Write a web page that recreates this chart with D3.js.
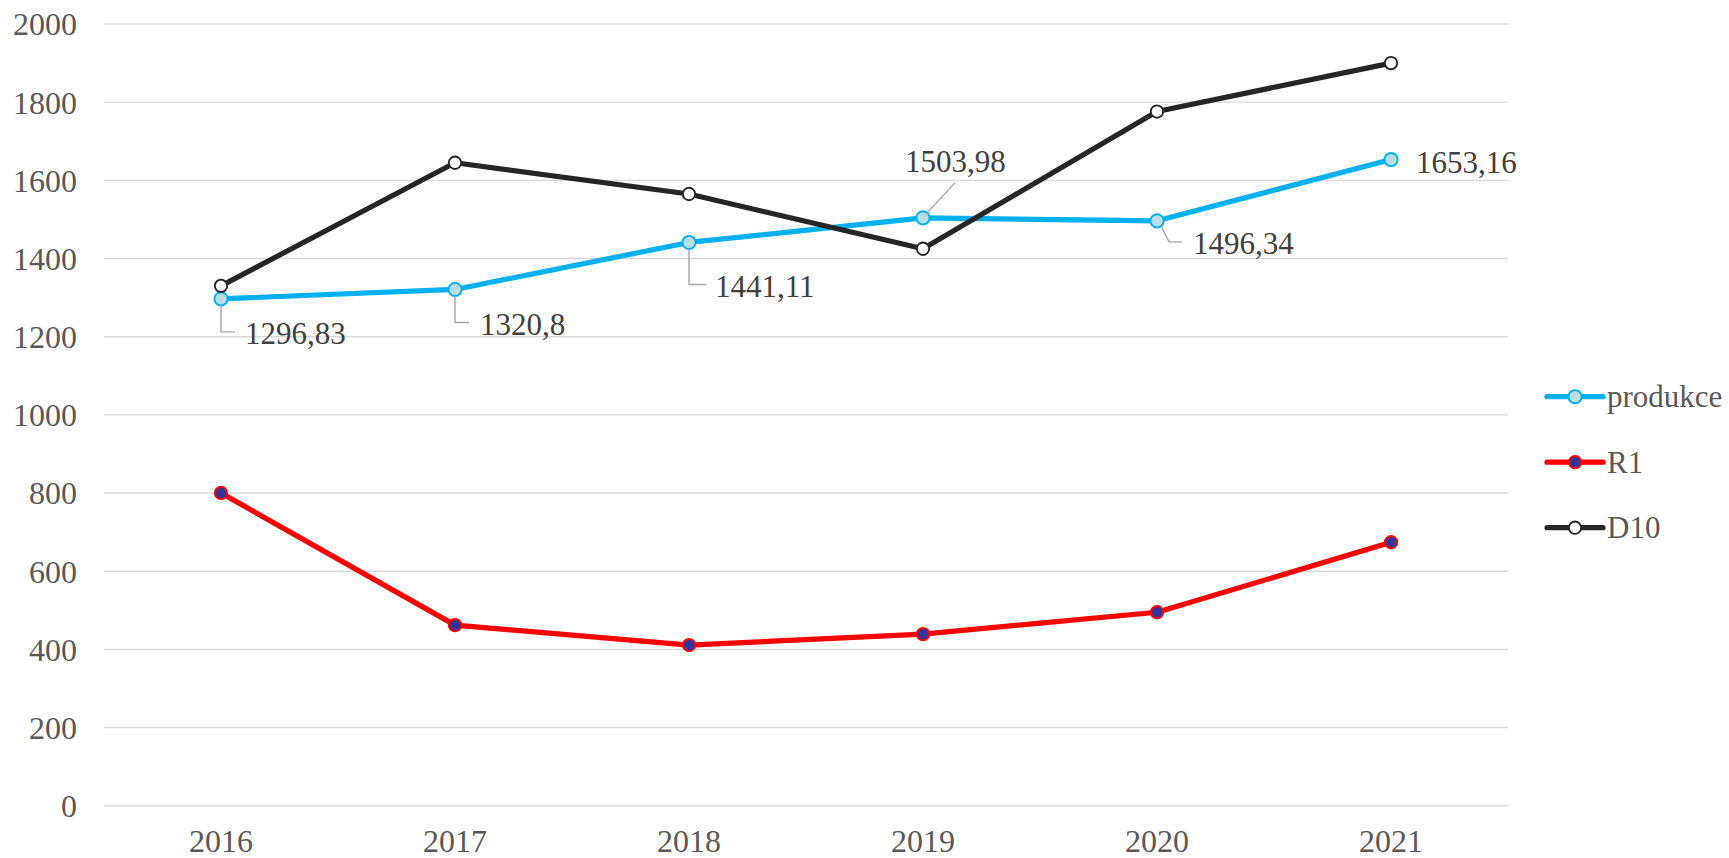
<!DOCTYPE html>
<html>
<head>
<meta charset="utf-8">
<script src="https://cdn.jsdelivr.net/npm/d3@7"></script>
<style>
  body { margin: 0; background: #fff; }
</style>
</head>
<body>
<div id="chart"></div>
<script>
// data
const years = ['2016', '2017', '2018', '2019', '2020', '2021']
const produkce = [1296.83, 1320.8, 1441.11, 1503.98, 1496.34, 1653.16]
const r1 = [800, 462, 411, 439, 495, 674]
const d10 = [1330, 1645, 1565, 1425, 1776, 1900]
const yTicks = [0, 200, 400, 600, 800, 1000, 1200, 1400, 1600, 1800, 2000]

const serif = '"Liberation Serif", "Times New Roman", Tinos, Times'

// canvas
const width = 1729,
  height = 858

const svg = d3.select('#chart')
  .append('svg')
  .attr('width', width)
  .attr('height', height)

const x = d3.scaleBand()
  .domain(years)
  .range([104, 1508])
  .padding(0)

const cx = d => x(d) + x.bandwidth() / 2

const y = d3.scaleLinear()
  .domain([0, 2000])
  .range([805.7, 24])

// gridlines
svg.append('g')
  .selectAll('line')
  .data(yTicks)
  .enter()
  .append('line')
  .attr('x1', 104)
  .attr('x2', 1508)
  .attr('y1', d => y(d))
  .attr('y2', d => y(d))
  .attr('stroke', '#d9d9d9')
  .attr('stroke-width', 1.4)

// y axis
const yAxis = svg.append('g')
  .attr('transform', 'translate(77,0)')
  .call(d3.axisLeft(y).tickValues(yTicks).tickSize(0).tickPadding(0).tickFormat(d3.format('d')))
yAxis.select('.domain').remove()
yAxis.selectAll('text')
  .style('font-family', serif)
  .style('font-size', '32px')
  .attr('fill', '#595959')
  .attr('dy', '0.34em')

// x axis
const xAxis = svg.append('g')
  .attr('transform', 'translate(0,805.7)')
  .call(d3.axisBottom(x).tickSize(0).tickPadding(0))
xAxis.select('.domain').remove()
xAxis.selectAll('text')
  .style('font-family', serif)
  .style('font-size', '32px')
  .attr('fill', '#595959')
  .attr('dy', 0)
  .attr('y', 46)

const series = [
  { name: 'produkce', values: produkce, color: '#00b0f0', fill: '#b9dde3', mstroke: '#00b0f0', r: 6.6 },
  { name: 'R1', values: r1, color: '#ff0000', fill: '#333399', mstroke: '#ff0000', r: 6.2 },
  { name: 'D10', values: d10, color: '#262626', fill: '#ffffff', mstroke: '#262626', r: 6.2 }
]

const line = d3.line()
  .x((d, i) => cx(years[i]))
  .y(d => y(d))

series.forEach(s => {
  svg.append('path')
    .datum(s.values)
    .attr('d', line)
    .attr('fill', 'none')
    .attr('stroke', s.color)
    .attr('stroke-width', 5.2)
    .attr('stroke-linejoin', 'round')

  svg.append('g')
    .selectAll('circle')
    .data(s.values)
    .enter()
    .append('circle')
    .attr('cx', (d, i) => cx(years[i]))
    .attr('cy', d => y(d))
    .attr('r', s.r)
    .attr('fill', s.fill)
    .attr('stroke', s.mstroke)
    .attr('stroke-width', 1.9)
})

// data labels for produkce (offsets from the point, leader path as relative points)
const labelPos = [
  { dx: 24, dy: 45, leader: [[0, 6], [0, 33], [14, 33]] },
  { dx: 25, dy: 46, leader: [[0, 6], [0, 33], [14, 33]] },
  { dx: 26, dy: 55, leader: [[0, 6], [0, 42], [17, 42]] },
  { dx: -18, dy: -46, leader: [[4, -5], [32, -35]] },
  { dx: 36, dy: 33, leader: [[4, 5], [12, 21], [25, 21]] },
  { dx: 25, dy: 13, leader: null }
]

const fmt = v => String(v).replace('.', ',')

produkce.forEach((v, i) => {
  const px = cx(years[i]), py = y(v)
  const lp = labelPos[i]
  if (lp.leader) {
    svg.append('path')
      .attr('d', d3.line()(lp.leader.map(p => [px + p[0], py + p[1]])))
      .attr('fill', 'none')
      .attr('stroke', '#a6a6a6')
      .attr('stroke-width', 1.4)
  }
  svg.append('text')
    .attr('x', px + lp.dx)
    .attr('y', py + lp.dy)
    .style('font-family', serif)
    .style('font-size', '31px')
    .attr('fill', '#404040')
    .text(fmt(v))
})

// legend
const legend = svg.append('g')
  .selectAll('g')
  .data(series)
  .enter()
  .append('g')
  .attr('transform', (d, i) => `translate(1547,${396.7 + i * 65.5})`)

legend.append('line')
  .attr('x1', 0)
  .attr('x2', 56)
  .attr('stroke', d => d.color)
  .attr('stroke-width', 5.2)
  .attr('stroke-linecap', 'round')

legend.append('circle')
  .attr('cx', 28)
  .attr('r', d => d.r)
  .attr('fill', d => d.fill)
  .attr('stroke', d => d.mstroke)
  .attr('stroke-width', 1.9)

legend.append('text')
  .attr('x', 60)
  .attr('dy', '0.34em')
  .style('font-family', serif)
  .style('font-size', '31px')
  .attr('fill', '#595959')
  .text(d => d.name)
</script>
</body>
</html>
